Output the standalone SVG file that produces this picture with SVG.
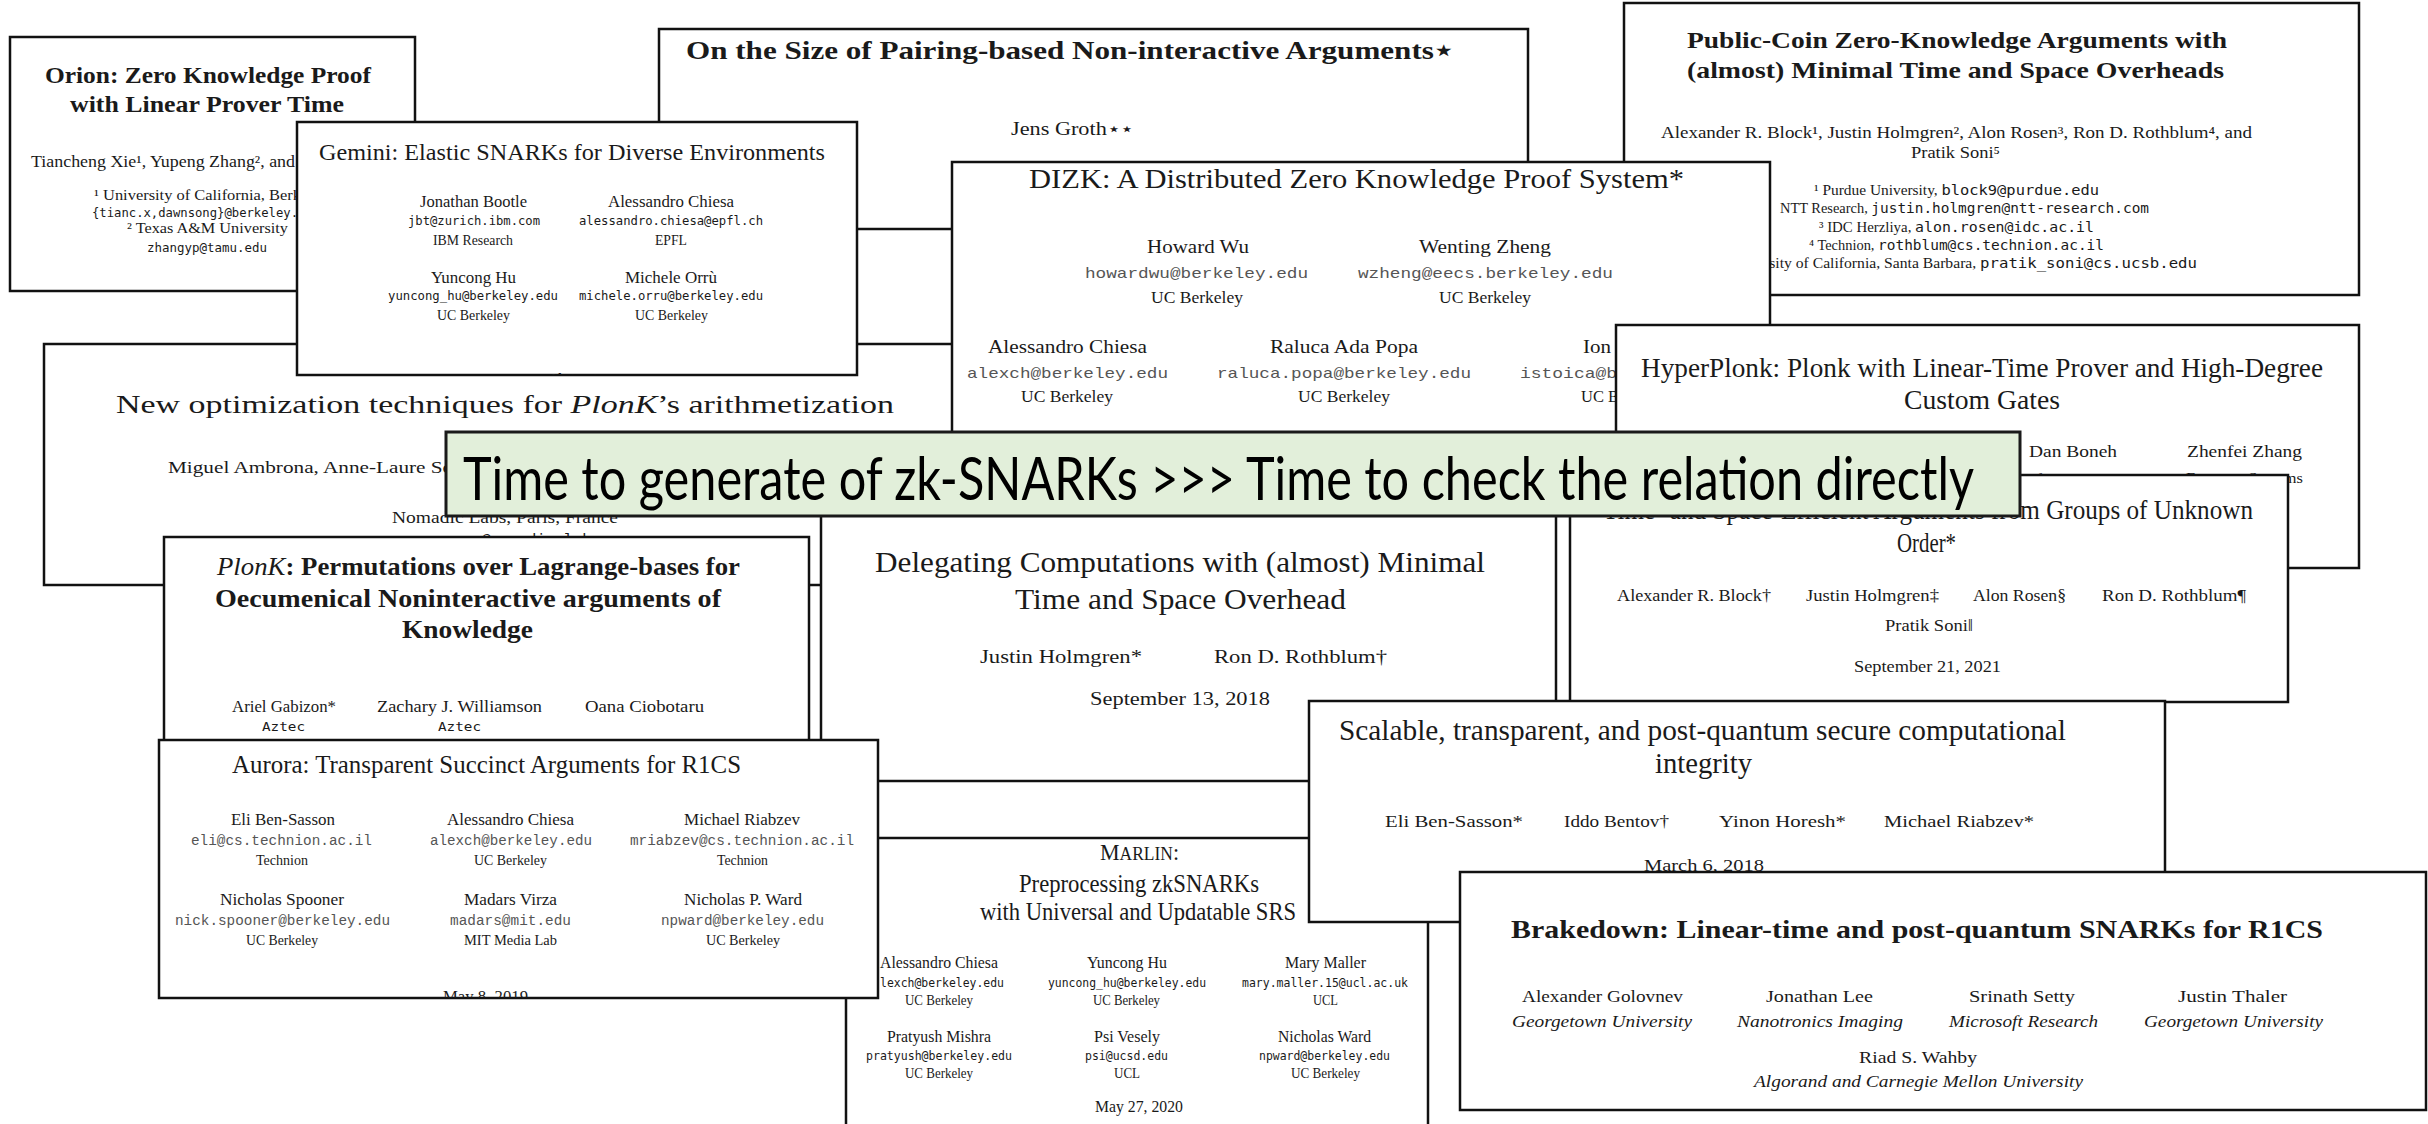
<svg xmlns="http://www.w3.org/2000/svg" width="2428" height="1124" viewBox="0 0 2428 1124">
<style>
  .page { fill:#fff; stroke:#111; stroke-width:2.5; }
  text { fill:#1a1a1a; font-family:"Liberation Serif","DejaVu Serif",serif; }
  .b { font-weight:bold; }
  .it { font-style:italic; }
  .tt { font-family:"DejaVu Sans Mono","Liberation Mono",monospace; }
  .cr { font-family:"Liberation Mono","DejaVu Sans Mono",monospace; fill:#555; }
  .banner { fill:#e2efda; stroke:#1a1a1a; stroke-width:3; }
  .bt { font-family:Lato,"Open Sans","Liberation Sans",sans-serif; fill:#000; }
</style>
<defs>
  <clipPath id="clipGemini"><rect x="297" y="122" width="560" height="253"/></clipPath>
  <clipPath id="clipAurora"><rect x="159" y="740" width="719" height="258"/></clipPath>
</defs>

<!-- Groth: pairing-based arguments -->
<g id="groth">
  <rect class="page" x="659" y="29" width="869" height="200"/>
  <text class="b" x="686" y="59" font-size="26" textLength="767" lengthAdjust="spacingAndGlyphs">On the Size of Pairing-based Non-interactive Arguments⋆</text>
  <text x="1011" y="135" font-size="18" textLength="123" lengthAdjust="spacingAndGlyphs">Jens Groth⋆⋆</text>
</g>

<!-- Public-coin zero-knowledge arguments -->
<g id="public-coin">
  <rect class="page" x="1624" y="3" width="735" height="292"/>
  <text class="b" x="1687" y="48" font-size="24" textLength="540" lengthAdjust="spacingAndGlyphs">Public-Coin Zero-Knowledge Arguments with</text>
  <text class="b" x="1687" y="78" font-size="24" textLength="537" lengthAdjust="spacingAndGlyphs">(almost) Minimal Time and Space Overheads</text>
  <text x="1661" y="138" font-size="16" textLength="591" lengthAdjust="spacingAndGlyphs">Alexander R. Block¹, Justin Holmgren², Alon Rosen³, Ron D. Rothblum⁴, and</text>
  <text x="1911" y="158" font-size="16" textLength="89" lengthAdjust="spacingAndGlyphs">Pratik Soni⁵</text>
  <text x="1814" y="195" font-size="14" textLength="285" lengthAdjust="spacingAndGlyphs">¹ Purdue University, <tspan class="tt">block9@purdue.edu</tspan></text>
  <text x="1780" y="213" font-size="14" textLength="369" lengthAdjust="spacingAndGlyphs">NTT Research, <tspan class="tt">justin.holmgren@ntt-research.com</tspan></text>
  <text x="1819" y="232" font-size="14" textLength="275" lengthAdjust="spacingAndGlyphs">³ IDC Herzliya, <tspan class="tt">alon.rosen@idc.ac.il</tspan></text>
  <text x="1809" y="250" font-size="14" textLength="295" lengthAdjust="spacingAndGlyphs">⁴ Technion, <tspan class="tt">rothblum@cs.technion.ac.il</tspan></text>
  <text x="1764" y="268" font-size="14" textLength="433" lengthAdjust="spacingAndGlyphs">rsity of California, Santa Barbara, <tspan class="tt">pratik_soni@cs.ucsb.edu</tspan></text>
</g>

<!-- Orion -->
<g id="orion">
  <rect class="page" x="10" y="37" width="405" height="254"/>
  <text class="b" x="45" y="83" font-size="24" textLength="326" lengthAdjust="spacingAndGlyphs">Orion: Zero Knowledge Proof</text>
  <text class="b" x="70" y="112" font-size="24" textLength="274" lengthAdjust="spacingAndGlyphs">with Linear Prover Time</text>
  <text x="31" y="167" font-size="16" textLength="264" lengthAdjust="spacingAndGlyphs">Tiancheng Xie¹, Yupeng Zhang², and</text>
  <text x="94" y="200" font-size="14" textLength="207" lengthAdjust="spacingAndGlyphs">¹ University of California, Berk</text>
  <text class="tt" x="92" y="217" font-size="13" textLength="206" lengthAdjust="spacingAndGlyphs">{tianc.x,dawnsong}@berkeley.</text>
  <text x="127" y="233" font-size="14" textLength="161" lengthAdjust="spacingAndGlyphs">² Texas A&amp;M University</text>
  <text class="tt" x="147" y="252" font-size="13" textLength="120" lengthAdjust="spacingAndGlyphs">zhangyp@tamu.edu</text>
</g>

<!-- PlonK arithmetization optimizations -->
<g id="plonk-arith">
  <rect class="page" x="44" y="344" width="1000" height="241"/>
  <text x="116" y="413" font-size="26" textLength="778" lengthAdjust="spacingAndGlyphs">New optimization techniques for <tspan class="it">PlonK</tspan>’s arithmetization</text>
  <text x="168" y="473" font-size="17" textLength="284" lengthAdjust="spacingAndGlyphs">Miguel Ambrona, Anne-Laure Sc</text>
  <text x="392" y="523" font-size="16" textLength="226" lengthAdjust="spacingAndGlyphs">Nomadic Labs, Paris, France</text>
  <text class="tt" x="372" y="544" font-size="14" textLength="265" lengthAdjust="spacingAndGlyphs">name.surname@nomadic-labs.com</text>
</g>

<!-- Gemini -->
<g id="gemini">
  <rect class="page" x="297" y="122" width="560" height="253"/>
  <text x="319" y="160" font-size="24" textLength="506" lengthAdjust="spacingAndGlyphs">Gemini: Elastic SNARKs for Diverse Environments</text>
  <text x="420" y="207" font-size="16" textLength="107" lengthAdjust="spacingAndGlyphs">Jonathan Bootle</text>
  <text class="tt" x="408" y="225" font-size="12" textLength="132" lengthAdjust="spacingAndGlyphs">jbt@zurich.ibm.com</text>
  <text x="433" y="245" font-size="14" textLength="80" lengthAdjust="spacingAndGlyphs">IBM Research</text>
  <text x="608" y="207" font-size="16" textLength="126" lengthAdjust="spacingAndGlyphs">Alessandro Chiesa</text>
  <text class="tt" x="579" y="225" font-size="12" textLength="184" lengthAdjust="spacingAndGlyphs">alessandro.chiesa@epfl.ch</text>
  <text x="655" y="245" font-size="14" textLength="32" lengthAdjust="spacingAndGlyphs">EPFL</text>
  <text x="431" y="283" font-size="16" textLength="85" lengthAdjust="spacingAndGlyphs">Yuncong Hu</text>
  <text class="tt" x="388" y="300" font-size="12" textLength="170" lengthAdjust="spacingAndGlyphs">yuncong_hu@berkeley.edu</text>
  <text x="437" y="320" font-size="14" textLength="73" lengthAdjust="spacingAndGlyphs">UC Berkeley</text>
  <text x="625" y="283" font-size="16" textLength="92" lengthAdjust="spacingAndGlyphs">Michele Orrù</text>
  <text class="tt" x="579" y="300" font-size="12" textLength="184" lengthAdjust="spacingAndGlyphs">michele.orru@berkeley.edu</text>
  <text x="635" y="320" font-size="14" textLength="73" lengthAdjust="spacingAndGlyphs">UC Berkeley</text>
  <text class="b" x="573" y="382" font-size="13" text-anchor="middle" clip-path="url(#clipGemini)">Abstract</text>
</g>

<!-- DIZK -->
<g id="dizk">
  <rect class="page" x="952" y="162" width="818" height="338"/>
  <text x="1029" y="188" font-size="28" textLength="655" lengthAdjust="spacingAndGlyphs">DIZK: A Distributed Zero Knowledge Proof System*</text>
  <text x="1147" y="253" font-size="19" textLength="102" lengthAdjust="spacingAndGlyphs">Howard Wu</text>
  <text class="cr" x="1085" y="278" font-size="15" textLength="223" lengthAdjust="spacingAndGlyphs">howardwu@berkeley.edu</text>
  <text x="1151" y="303" font-size="17" textLength="92" lengthAdjust="spacingAndGlyphs">UC Berkeley</text>
  <text x="1419" y="253" font-size="19" textLength="132" lengthAdjust="spacingAndGlyphs">Wenting Zheng</text>
  <text class="cr" x="1358" y="278" font-size="15" textLength="255" lengthAdjust="spacingAndGlyphs">wzheng@eecs.berkeley.edu</text>
  <text x="1439" y="303" font-size="17" textLength="92" lengthAdjust="spacingAndGlyphs">UC Berkeley</text>
  <text x="988" y="353" font-size="19" textLength="159" lengthAdjust="spacingAndGlyphs">Alessandro Chiesa</text>
  <text class="cr" x="967" y="378" font-size="15" textLength="201" lengthAdjust="spacingAndGlyphs">alexch@berkeley.edu</text>
  <text x="1021" y="402" font-size="17" textLength="92" lengthAdjust="spacingAndGlyphs">UC Berkeley</text>
  <text x="1270" y="353" font-size="19" textLength="148" lengthAdjust="spacingAndGlyphs">Raluca Ada Popa</text>
  <text class="cr" x="1217" y="378" font-size="15" textLength="254" lengthAdjust="spacingAndGlyphs">raluca.popa@berkeley.edu</text>
  <text x="1298" y="402" font-size="17" textLength="92" lengthAdjust="spacingAndGlyphs">UC Berkeley</text>
  <text x="1583" y="353" font-size="19" textLength="28" lengthAdjust="spacingAndGlyphs">Ion</text>
  <text class="cr" x="1520" y="378" font-size="15" textLength="97" lengthAdjust="spacingAndGlyphs">istoica@b</text>
  <text x="1581" y="402" font-size="17" textLength="38" lengthAdjust="spacingAndGlyphs">UC B</text>
</g>

<!-- HyperPlonk -->
<g id="hyperplonk">
  <rect class="page" x="1616" y="325" width="743" height="243"/>
  <text x="1641" y="377" font-size="27" textLength="682" lengthAdjust="spacingAndGlyphs">HyperPlonk: Plonk with Linear-Time Prover and High-Degree</text>
  <text x="1904" y="409" font-size="27" textLength="156" lengthAdjust="spacingAndGlyphs">Custom Gates</text>
  <text x="2029" y="457" font-size="17" textLength="88" lengthAdjust="spacingAndGlyphs">Dan Boneh</text>
  <text x="2187" y="457" font-size="17" textLength="115" lengthAdjust="spacingAndGlyphs">Zhenfei Zhang</text>
  <text x="2006" y="484" font-size="15" textLength="135" lengthAdjust="spacingAndGlyphs">Stanford University</text>
  <text x="2186" y="483" font-size="15" textLength="117" lengthAdjust="spacingAndGlyphs">Espresso Systems</text>
</g>

<!-- Delegating computations -->
<g id="delegating">
  <rect class="page" x="821" y="505" width="735" height="276"/>
  <text x="875" y="572" font-size="29" textLength="610" lengthAdjust="spacingAndGlyphs">Delegating Computations with (almost) Minimal</text>
  <text x="1015" y="609" font-size="29" textLength="331" lengthAdjust="spacingAndGlyphs">Time and Space Overhead</text>
  <text x="980" y="663" font-size="18" textLength="162" lengthAdjust="spacingAndGlyphs">Justin Holmgren*</text>
  <text x="1214" y="663" font-size="18" textLength="173" lengthAdjust="spacingAndGlyphs">Ron D. Rothblum†</text>
  <text x="1090" y="705" font-size="18" textLength="180" lengthAdjust="spacingAndGlyphs">September 13, 2018</text>
</g>

<!-- Time- and space-efficient arguments -->
<g id="groups-unknown-order">
  <rect class="page" x="1570" y="475" width="718" height="227"/>
  <text x="1603" y="519" font-size="27" textLength="650" lengthAdjust="spacingAndGlyphs">Time- and Space-Efficient Arguments from Groups of Unknown</text>
  <text x="1897" y="552" font-size="27" textLength="59" lengthAdjust="spacingAndGlyphs">Order*</text>
  <text x="1617" y="601" font-size="16" textLength="154" lengthAdjust="spacingAndGlyphs">Alexander R. Block†</text>
  <text x="1806" y="601" font-size="16" textLength="133" lengthAdjust="spacingAndGlyphs">Justin Holmgren‡</text>
  <text x="1973" y="601" font-size="16" textLength="93" lengthAdjust="spacingAndGlyphs">Alon Rosen§</text>
  <text x="2102" y="601" font-size="16" textLength="144" lengthAdjust="spacingAndGlyphs">Ron D. Rothblum¶</text>
  <text x="1885" y="631" font-size="16" textLength="88" lengthAdjust="spacingAndGlyphs">Pratik Soni‖</text>
  <text x="1854" y="672" font-size="16" textLength="147" lengthAdjust="spacingAndGlyphs">September 21, 2021</text>
</g>

<!-- PlonK -->
<g id="plonk">
  <rect class="page" x="164" y="537" width="645" height="230"/>
  <text class="b" x="217" y="575" font-size="26" textLength="523" lengthAdjust="spacingAndGlyphs"><tspan class="it" font-weight="normal">PlonK</tspan>: Permutations over Lagrange-bases for</text>
  <text class="b" x="215" y="607" font-size="26" textLength="506" lengthAdjust="spacingAndGlyphs">Oecumenical Noninteractive arguments of</text>
  <text class="b" x="402" y="638" font-size="26" textLength="131" lengthAdjust="spacingAndGlyphs">Knowledge</text>
  <text x="232" y="712" font-size="16" textLength="104" lengthAdjust="spacingAndGlyphs">Ariel Gabizon*</text>
  <text x="377" y="712" font-size="16" textLength="165" lengthAdjust="spacingAndGlyphs">Zachary J. Williamson</text>
  <text x="585" y="712" font-size="16" textLength="119" lengthAdjust="spacingAndGlyphs">Oana Ciobotaru</text>
  <text class="tt" x="262" y="731" font-size="13" textLength="43" lengthAdjust="spacingAndGlyphs">Aztec</text>
  <text class="tt" x="438" y="731" font-size="13" textLength="43" lengthAdjust="spacingAndGlyphs">Aztec</text>
</g>

<!-- Marlin -->
<g id="marlin">
  <rect class="page" x="846" y="838" width="582" height="300"/>
  <text x="1100" y="860" font-size="24" textLength="79" lengthAdjust="spacingAndGlyphs">M<tspan font-size="19">ARLIN</tspan>:</text>
  <text x="1019" y="892" font-size="25" textLength="240" lengthAdjust="spacingAndGlyphs">Preprocessing zkSNARKs</text>
  <text x="980" y="920" font-size="25" textLength="316" lengthAdjust="spacingAndGlyphs">with Universal and Updatable SRS</text>
  <text x="880" y="968" font-size="17" textLength="118" lengthAdjust="spacingAndGlyphs">Alessandro Chiesa</text>
  <text class="tt" x="880" y="987" font-size="13" textLength="124" lengthAdjust="spacingAndGlyphs">lexch@berkeley.edu</text>
  <text x="905" y="1005" font-size="14" textLength="68" lengthAdjust="spacingAndGlyphs">UC Berkeley</text>
  <text x="1087" y="968" font-size="17" textLength="80" lengthAdjust="spacingAndGlyphs">Yuncong Hu</text>
  <text class="tt" x="1048" y="987" font-size="13" textLength="158" lengthAdjust="spacingAndGlyphs">yuncong_hu@berkeley.edu</text>
  <text x="1093" y="1005" font-size="14" textLength="67" lengthAdjust="spacingAndGlyphs">UC Berkeley</text>
  <text x="1285" y="968" font-size="17" textLength="81" lengthAdjust="spacingAndGlyphs">Mary Maller</text>
  <text class="tt" x="1242" y="987" font-size="13" textLength="166" lengthAdjust="spacingAndGlyphs">mary.maller.15@ucl.ac.uk</text>
  <text x="1313" y="1005" font-size="14" textLength="25" lengthAdjust="spacingAndGlyphs">UCL</text>
  <text x="887" y="1042" font-size="17" textLength="104" lengthAdjust="spacingAndGlyphs">Pratyush Mishra</text>
  <text class="tt" x="866" y="1060" font-size="13" textLength="146" lengthAdjust="spacingAndGlyphs">pratyush@berkeley.edu</text>
  <text x="905" y="1078" font-size="14" textLength="68" lengthAdjust="spacingAndGlyphs">UC Berkeley</text>
  <text x="1094" y="1042" font-size="17" textLength="66" lengthAdjust="spacingAndGlyphs">Psi Vesely</text>
  <text class="tt" x="1085" y="1060" font-size="13" textLength="83" lengthAdjust="spacingAndGlyphs">psi@ucsd.edu</text>
  <text x="1114" y="1078" font-size="14" textLength="26" lengthAdjust="spacingAndGlyphs">UCL</text>
  <text x="1278" y="1042" font-size="17" textLength="93" lengthAdjust="spacingAndGlyphs">Nicholas Ward</text>
  <text class="tt" x="1259" y="1060" font-size="13" textLength="131" lengthAdjust="spacingAndGlyphs">npward@berkeley.edu</text>
  <text x="1291" y="1078" font-size="14" textLength="69" lengthAdjust="spacingAndGlyphs">UC Berkeley</text>
  <text x="1095" y="1112" font-size="17" textLength="88" lengthAdjust="spacingAndGlyphs">May 27, 2020</text>
</g>

<!-- Aurora -->
<g id="aurora">
  <rect class="page" x="159" y="740" width="719" height="258"/>
  <text x="232" y="773" font-size="26" textLength="509" lengthAdjust="spacingAndGlyphs">Aurora: Transparent Succinct Arguments for R1CS</text>
  <text x="231" y="825" font-size="17" textLength="104" lengthAdjust="spacingAndGlyphs">Eli Ben-Sasson</text>
  <text class="cr" x="191" y="845" font-size="14" textLength="181" lengthAdjust="spacingAndGlyphs">eli@cs.technion.ac.il</text>
  <text x="256" y="865" font-size="15" textLength="52" lengthAdjust="spacingAndGlyphs">Technion</text>
  <text x="447" y="825" font-size="17" textLength="127" lengthAdjust="spacingAndGlyphs">Alessandro Chiesa</text>
  <text class="cr" x="430" y="845" font-size="14" textLength="162" lengthAdjust="spacingAndGlyphs">alexch@berkeley.edu</text>
  <text x="474" y="865" font-size="15" textLength="73" lengthAdjust="spacingAndGlyphs">UC Berkeley</text>
  <text x="684" y="825" font-size="17" textLength="116" lengthAdjust="spacingAndGlyphs">Michael Riabzev</text>
  <text class="cr" x="630" y="845" font-size="14" textLength="224" lengthAdjust="spacingAndGlyphs">mriabzev@cs.technion.ac.il</text>
  <text x="717" y="865" font-size="15" textLength="51" lengthAdjust="spacingAndGlyphs">Technion</text>
  <text x="220" y="905" font-size="17" textLength="124" lengthAdjust="spacingAndGlyphs">Nicholas Spooner</text>
  <text class="cr" x="175" y="925" font-size="14" textLength="215" lengthAdjust="spacingAndGlyphs">nick.spooner@berkeley.edu</text>
  <text x="246" y="945" font-size="15" textLength="72" lengthAdjust="spacingAndGlyphs">UC Berkeley</text>
  <text x="464" y="905" font-size="17" textLength="93" lengthAdjust="spacingAndGlyphs">Madars Virza</text>
  <text class="cr" x="450" y="925" font-size="14" textLength="121" lengthAdjust="spacingAndGlyphs">madars@mit.edu</text>
  <text x="464" y="945" font-size="15" textLength="93" lengthAdjust="spacingAndGlyphs">MIT Media Lab</text>
  <text x="684" y="905" font-size="17" textLength="118" lengthAdjust="spacingAndGlyphs">Nicholas P. Ward</text>
  <text class="cr" x="661" y="925" font-size="14" textLength="163" lengthAdjust="spacingAndGlyphs">npward@berkeley.edu</text>
  <text x="706" y="945" font-size="15" textLength="74" lengthAdjust="spacingAndGlyphs">UC Berkeley</text>
  <text x="443" y="1002" font-size="17" textLength="85" lengthAdjust="spacingAndGlyphs" clip-path="url(#clipAurora)">May 8, 2019</text>
</g>

<!-- Scalable, transparent computational integrity -->
<g id="scalable">
  <rect class="page" x="1309" y="701" width="856" height="221"/>
  <text x="1339" y="740" font-size="29" textLength="727" lengthAdjust="spacingAndGlyphs">Scalable, transparent, and post-quantum secure computational</text>
  <text x="1655" y="773" font-size="29" textLength="97" lengthAdjust="spacingAndGlyphs">integrity</text>
  <text x="1385" y="827" font-size="17" textLength="138" lengthAdjust="spacingAndGlyphs">Eli Ben-Sasson*</text>
  <text x="1564" y="827" font-size="17" textLength="105" lengthAdjust="spacingAndGlyphs">Iddo Bentov†</text>
  <text x="1719" y="827" font-size="17" textLength="127" lengthAdjust="spacingAndGlyphs">Yinon Horesh*</text>
  <text x="1884" y="827" font-size="17" textLength="150" lengthAdjust="spacingAndGlyphs">Michael Riabzev*</text>
  <text x="1644" y="871" font-size="17" textLength="120" lengthAdjust="spacingAndGlyphs">March 6, 2018</text>
</g>

<!-- Brakedown -->
<g id="brakedown">
  <rect class="page" x="1460" y="872" width="966" height="238"/>
  <text class="b" x="1511" y="938" font-size="26" textLength="812" lengthAdjust="spacingAndGlyphs">Brakedown: Linear-time and post-quantum SNARKs for R1CS</text>
  <text x="1522" y="1002" font-size="17" textLength="161" lengthAdjust="spacingAndGlyphs">Alexander Golovnev</text>
  <text class="it" x="1512" y="1027" font-size="16" textLength="180" lengthAdjust="spacingAndGlyphs">Georgetown University</text>
  <text x="1766" y="1002" font-size="17" textLength="107" lengthAdjust="spacingAndGlyphs">Jonathan Lee</text>
  <text class="it" x="1737" y="1027" font-size="16" textLength="166" lengthAdjust="spacingAndGlyphs">Nanotronics Imaging</text>
  <text x="1969" y="1002" font-size="17" textLength="106" lengthAdjust="spacingAndGlyphs">Srinath Setty</text>
  <text class="it" x="1949" y="1027" font-size="16" textLength="149" lengthAdjust="spacingAndGlyphs">Microsoft Research</text>
  <text x="2178" y="1002" font-size="17" textLength="109" lengthAdjust="spacingAndGlyphs">Justin Thaler</text>
  <text class="it" x="2144" y="1027" font-size="16" textLength="179" lengthAdjust="spacingAndGlyphs">Georgetown University</text>
  <text x="1859" y="1063" font-size="17" textLength="118" lengthAdjust="spacingAndGlyphs">Riad S. Wahby</text>
  <text class="it" x="1754" y="1087" font-size="16" textLength="329" lengthAdjust="spacingAndGlyphs">Algorand and Carnegie Mellon University</text>
</g>

<!-- Headline banner across the collage -->
<g id="banner">
  <rect class="banner" x="446" y="432" width="1574" height="84"/>
  <text class="bt" x="463" y="500" font-size="60" textLength="1511" lengthAdjust="spacingAndGlyphs">Time to generate of zk-SNARKs &gt;&gt;&gt; Time to check the relation directly</text>
</g>
</svg>
